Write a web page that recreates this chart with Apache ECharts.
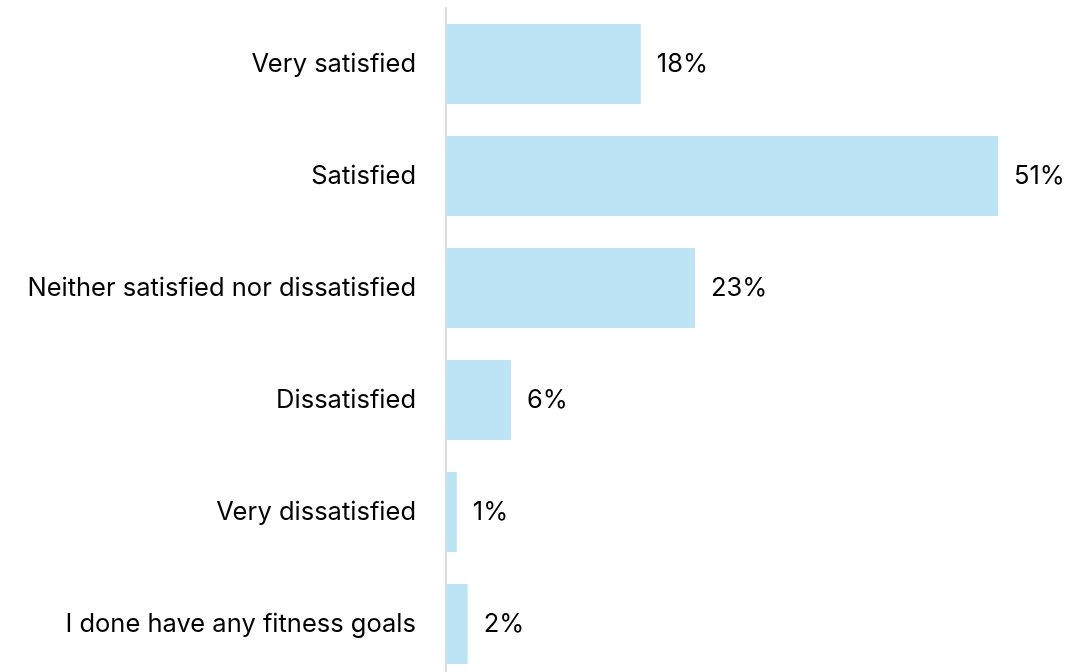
<!DOCTYPE html>
<html>
<head>
<meta charset="utf-8">
<script src="https://cdn.jsdelivr.net/npm/echarts@6/dist/echarts.min.js"></script>
<style>
  html, body { margin: 0; padding: 0; background: #ffffff; overflow: hidden; }
  /* the axis line runs past the bottom edge of the window */
  #chart { width: 1074px; height: 680px; }
</style>
</head>
<body>
<div id="chart"></div>
<script>
// Survey answers, top to bottom
const categories = [
  'Very satisfied',
  'Satisfied',
  'Neither satisfied nor dissatisfied',
  'Dissatisfied',
  'Very dissatisfied',
  'I done have any fitness goals'
];
// Share of respondents (%)
const shares = [18, 51, 23, 6, 1, 2];

const FONT = 'Inter, "Noto Sans", sans-serif';

const chart = echarts.init(document.getElementById('chart'));
chart.setOption({
  animation: false,
  backgroundColor: '#ffffff',
  grid: { left: 446, right: 76, top: 8, bottom: 0, containLabel: false },
  xAxis: {
    type: 'value',
    min: 0,
    max: 51,
    show: false
  },
  yAxis: {
    type: 'category',
    data: categories,
    inverse: true,
    axisLine: { show: true, lineStyle: { color: '#d9d9d9', width: 2 } },
    axisTick: { show: false },
    axisLabel: {
      margin: 30,
      color: '#000000',
      fontSize: 25.5,
      fontFamily: FONT
    }
  },
  series: [{
    type: 'bar',
    data: shares,
    barCategoryGap: '28.6%',
    itemStyle: { color: '#bde4f5' },
    label: {
      show: true,
      position: 'right',
      distance: 16,
      formatter: p => p.value + '%',
      color: '#000000',
      fontSize: 25.5,
      fontFamily: FONT
    }
  }]
});
</script>
</body>
</html>
